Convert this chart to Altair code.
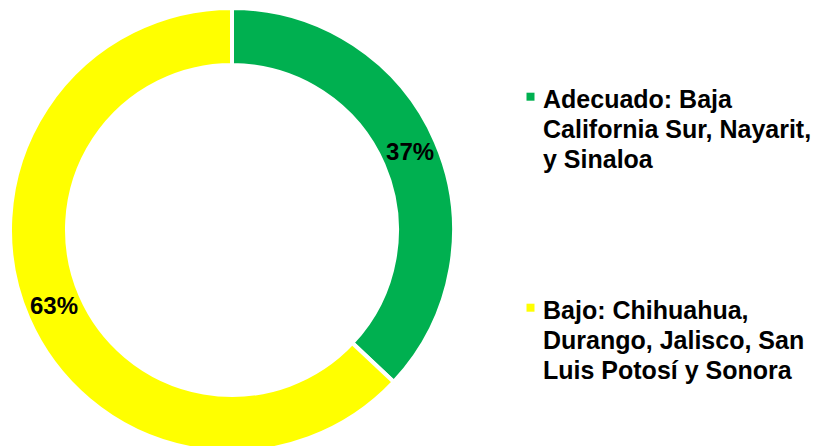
import altair as alt
import pandas as pd

categories = [
    "Adecuado: Baja|California Sur, Nayarit,|y Sinaloa",
    "Bajo: Chihuahua,|Durango, Jalisco,  San|Luis Potosí y Sonora",
]
values = [37, 63]
pct_labels = ["37%", "63%"]
colors = ["#00B050", "#FFFF00"]
order = [1, 2]

df = pd.DataFrame({"cat": categories, "value": values, "label": pct_labels, "order": order})

FONT = "Liberation Sans"
CX, CY = 224, 222

color = alt.Color(
    "cat:N",
    scale=alt.Scale(domain=categories, range=colors),
    legend=alt.Legend(
        title=None,
        orient="none",
        legendX=510,
        legendY=67,
        symbolType="M-1,1.3H1V3.3H-1Z",
        symbolSize=64,
        symbolStrokeWidth=0,
        symbolOpacity=1,
        labelExpr="split(datum.label, '|')",
        labelFont=FONT,
        labelFontWeight="bold",
        labelFontSize=25,
        labelLimit=0,
        labelOffset=0,
        labelColor="#000000",
        labelBaseline="top",
        rowPadding=113,
        padding=0,
    ),
)

base = alt.Chart(df).encode(
    theta=alt.Theta("value:Q", stack=True),
    order=alt.Order("order:Q"),
)

arcs = base.mark_arc(
    innerRadius=165, outerRadius=222, stroke="white", strokeWidth=4, x=CX, y=CY
).encode(color=color)

texts = base.mark_text(
    radius=194, font=FONT, fontWeight="bold", fontSize=24, color="black",
    align="center", baseline="middle", x=CX, y=CY
).encode(text="label:N")

chart = alt.layer(arcs, texts).properties(
    width=817, height=438, padding=0,
    autosize=alt.AutoSizeParams(type="none"),
).configure_view(stroke=None).configure(
    style={"guide-label": {"lineHeight": 30}}
)

chart.save("out.html", embed_options={"renderer": "svg", "actions": False})
